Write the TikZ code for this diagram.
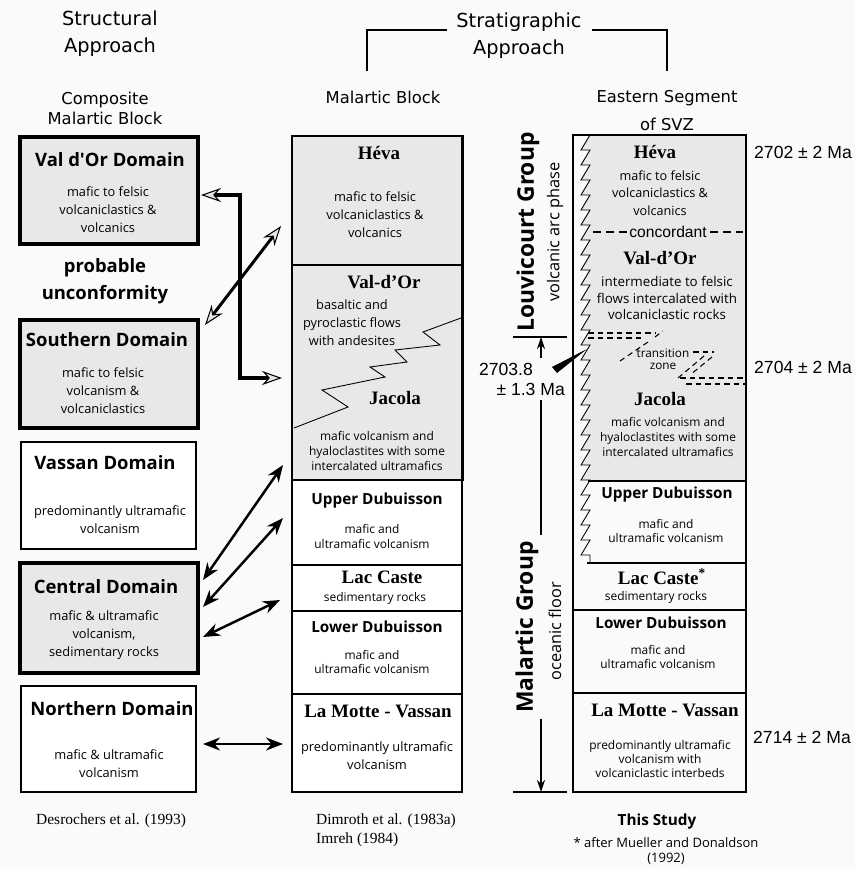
\documentclass[tikz,border=0pt]{standalone}
\usepackage{fontspec}
\setmainfont{Liberation Serif}
\newfontfamily\comicfont{Open Sans}
\newfontfamily\headfont{DejaVu Sans}
\newfontfamily\agefont{Liberation Sans}
\usetikzlibrary{arrows.meta,decorations.pathmorphing}
\definecolor{rockgray}{RGB}{232,232,232}
\definecolor{pagegray}{RGB}{250,250,250}

\begin{document}
\begin{tikzpicture}[
        x=0.2mm, y=-0.2mm,
        heading/.style={font=\headfont\fontsize{11}{15.3}\selectfont, align=center},
        subheading/.style={font=\headfont\fontsize{9.3}{11.3}\selectfont, align=center},
        domain box/.style={draw, line width=2.3pt, fill=rockgray, inner sep=0pt},
        plain box/.style={draw, line width=0.7pt, fill=white, inner sep=0pt},
        unit box/.style={draw, line width=1.7pt, fill=rockgray, inner sep=0pt},
        layer box/.style={draw, line width=0.6pt, fill=white, inner sep=0pt},
        domain name/.style={font=\comicfont\bfseries\fontsize{10.5}{15.3}\selectfont, align=center},
        dubuisson/.style={font=\comicfont\bfseries\fontsize{8.7}{10}\selectfont},
        unit name/.style={font=\bfseries\fontsize{10.8}{12}\selectfont},
        rock text/.style={font=\comicfont\fontsize{7.3}{10.2}\selectfont, align=center},
        small rock text/.style={font=\comicfont\fontsize{6.8}{8.5}\selectfont, align=center},
        age/.style={font=\agefont\fontsize{10}{12}\selectfont},
        reference/.style={font=\fontsize{8.8}{10.8}\selectfont, align=left, anchor=west},
        group name/.style={font=\comicfont\bfseries\fontsize{13}{15}\selectfont, rotate=90},
        group phase/.style={font=\comicfont\fontsize{9.3}{11}\selectfont, rotate=90},
        solid link/.style={line width=1.4pt, {Stealth[length=3.4mm,width=2.6mm]}-{Stealth[length=3.4mm,width=2.6mm]}},
        hollow link/.style={line width=#1, {Stealth[length=4mm,width=2.8mm,fill=gray!20,line width=0.6pt]}-{Stealth[length=4mm,width=2.8mm,fill=gray!20,line width=0.6pt]}},
        bracket line/.style={line width=0.9pt},
        contact/.style={line width=0.9pt, dash pattern=on 1.6mm off 1mm},
        transition/.style={line width=0.6pt, dash pattern=on 1.1mm off 0.8mm},
        saw deco/.style={decoration={saw, mirror, segment length=3mm, amplitude=1.8mm}}
    ]
    \fill[pagegray] (0,0) rectangle (855,869);
    \useasboundingbox (0,0) rectangle (855,869);

    % headings
    \node[heading] (struct) at (110,34) {Structural\\Approach};
    \node[heading] (strat) at (519,36) {Stratigraphic\\Approach};
    \node[subheading] (comp) at (105,108) {Composite\\Malartic Block};
    \node[subheading] (mblk) at (383,97) {Malartic Block};
    \node[subheading, font=\headfont\fontsize{9.3}{15.9}\selectfont] (svzh) at (667,111) {Eastern Segment\\of SVZ};
    \coordinate (brL) at (367,71);
    \coordinate (brLe) at (447,30);
    \coordinate (brR) at (667,71);
    \coordinate (brRs) at (592,30);
    \draw[bracket line] (brL) |- (brLe);
    \draw[bracket line] (brRs) -| (brR);

    % structural approach
    \node[domain box, minimum width=35.6mm, minimum height=21.4mm] (vod) at (109,190.5) {};
    \node[domain box, minimum width=35.6mm, minimum height=21.6mm] (sou) at (109,374) {};
    \node[plain box, minimum width=35mm, minimum height=21.4mm] (vas) at (108.5,495.5) {};
    \node[domain box, minimum width=35.6mm, minimum height=22mm] (cen) at (109,618) {};
    \node[plain box, minimum width=35mm, minimum height=21.2mm] (nor) at (108.5,739) {};
    \node[domain name] (vodn) at (110,160) {Val d'Or Domain};
    \node[rock text] (vodt) at (108,210) {mafic to felsic\\volcaniclastics \&\\volcanics};
    \node[domain name] (unc) at (105,281) {probable\\unconformity};
    \node[domain name] (soun) at (107,340) {Southern Domain};
    \node[rock text] (sout) at (103,391) {mafic to felsic\\volcanism \&\\volcaniclastics};
    \node[domain name] (vasn) at (105,463) {Vassan Domain};
    \node[rock text] (vast) at (110,520) {predominantly ultramafic\\volcanism};
    \node[domain name] (cenn) at (106,587) {Central Domain};
    \node[rock text] (cent) at (104,635) {mafic \& ultramafic\\volcanism,\\sedimentary rocks};
    \node[domain name] (norn) at (112,709) {Northern Domain};
    \node[rock text] (nort) at (109,764) {mafic \& ultramafic\\volcanism};
    \node[reference] (desr) at (30,821) {Desrochers et al. (1993)};

    % malartic block
    \node[layer box, minimum width=34mm, minimum height=17mm] (udu) at (377,522.5) {};
    \node[layer box, minimum width=34mm, minimum height=9.2mm] (lac) at (377,588) {};
    \node[layer box, minimum width=34mm, minimum height=16.6mm] (ldu) at (377,652.5) {};
    \node[layer box, minimum width=34mm, minimum height=19.6mm] (lmv) at (377,743) {};
    \node[unit box, minimum width=34mm, minimum height=25.8mm] (hev) at (377,200.5) {};
    \node[unit box, minimum width=34mm, minimum height=43mm] (vdj) at (377,372.5) {};
    \draw[line width=0.5pt] (461,318) -- (423,332) -- (440,345) -- (395,350) -- (407,362) -- (370,367)
        -- (385,377) -- (322,390) -- (348,407) -- (294,428);
    \node[unit name] (hevn) at (379,153) {Héva};
    \node[rock text] (hevt) at (375,215) {mafic to felsic\\volcaniclastics \&\\volcanics};
    \node[unit name] (vdon) at (384,282) {Val-d'Or};
    \node[rock text] (vdot) at (352,323) {basaltic and\\pyroclastic flows\\with andesites};
    \node[unit name] (jacn) at (395,398) {Jacola};
    \node[small rock text] (jact) at (377,451) {mafic volcanism and\\hyaloclastites with some\\intercalated ultramafics};
    \node[dubuisson] (udun) at (377,501) {Upper Dubuisson};
    \node[small rock text] (udut) at (372,536.5) {mafic and\\ultramafic volcanism};
    \node[unit name] (lacn) at (382,577) {Lac Caste};
    \node[small rock text] (lact) at (375,598) {sedimentary rocks};
    \node[dubuisson] (ldun) at (377,627) {Lower Dubuisson};
    \node[small rock text] (ldut) at (372,662) {mafic and\\ultramafic volcanism};
    \node[unit name] (lmvn) at (378,711) {La Motte - Vassan};
    \node[rock text] (lmvt) at (377,756) {predominantly ultramafic\\volcanism};
    \node[reference] (dimr) at (310,830) {Dimroth et al. (1983a)\\Imreh (1984)};

    % links between the two approaches
    \coordinate (bkA) at (201,195);
    \coordinate (bkC) at (240,378);
    \coordinate (bkB) at (282,378);
    \coordinate (dgA) at (205,325);
    \coordinate (dgB) at (281,226);
    \coordinate (jaA) at (203,580);
    \coordinate (jaB) at (283,465);
    \coordinate (udA) at (203,607);
    \coordinate (udB) at (283,518);
    \coordinate (lcA) at (203,637);
    \coordinate (lcB) at (280,600);
    \coordinate (nmA) at (203,744);
    \coordinate (nmB) at (283,744);
    \draw[hollow link=2.8pt] (bkA) -| (bkC) -- (bkB);
    \draw[hollow link=1.7pt] (dgA) -- (dgB);
    \draw[solid link] (jaA) -- (jaB);
    \draw[solid link] (udA) -- (udB);
    \draw[solid link] (lcA) -- (lcB);
    \draw[solid link] (nmA) -- (nmB);

    % eastern segment of SVZ
    \fill[rockgray] (746,135) -- (590,135) decorate[saw deco]{-- (590,481)} -- (746,481) -- cycle;
    \node[draw, line width=0.6pt, minimum width=34.6mm, minimum height=131.4mm, inner sep=0pt] (svz) at (659.5,463.5) {};
    \draw[line width=1.1pt] (573,482) |- (746,135) -- (746,481);
    \draw[line width=0.5pt] (590,135) decorate[saw deco]{-- (590,563)};
    \draw[line width=0.6pt] (588,481) -- (746,481);
    \draw[line width=0.6pt] (587,563) -- (746,563);
    \draw[line width=0.6pt] (573,610) -- (746,610);
    \draw[line width=0.6pt] (573,693) -- (746,693);
    \draw[contact] (593,232) -- (743,232);
    \node[font=\agefont\fontsize{8.9}{10}\selectfont, fill=rockgray, inner sep=1.5pt] (conc) at (668,232) {concordant};
    \draw[transition] (588,333) -- (655,333);
    \draw[transition] (588,338) -- (645,338);
    \draw[transition] (655,337) -- (663,331);
    \draw[transition] (648,342) -- (620,361);
    \draw[transition] (693,352) -- (714,352);
    \draw[transition] (704,356) -- (678,378);
    \draw[transition] (712,357) -- (690,375);
    \draw[transition] (680,378) -- (745,378);
    \draw[transition] (686,384) -- (745,384);
    \node[font=\comicfont\fontsize{6.7}{6.9}\selectfont, align=center] (trz) at (663,359) {transition\\zone};
    \node[unit name] (rhevn) at (655,152) {Héva};
    \node[rock text, font=\comicfont\fontsize{7.2}{9.9}\selectfont] (rhevt) at (660,193) {mafic to felsic\\volcaniclastics \&\\volcanics};
    \node[unit name] (rvdon) at (660,258) {Val-d'Or};
    \node[rock text, font=\comicfont\fontsize{7.6}{9.4}\selectfont] (rvdot) at (667,298) {intermediate to felsic\\flows intercalated with\\volcaniclastic rocks};
    \node[unit name] (rjacn) at (660,399) {Jacola};
    \node[small rock text] (rjact) at (668,437) {mafic volcanism and\\hyaloclastites with some\\intercalated ultramafics};
    \node[dubuisson] (rudun) at (667,495) {Upper Dubuisson};
    \node[small rock text] (rudut) at (666,531) {mafic and\\ultramafic volcanism};
    \node[unit name] (rlacn) at (662,577) {Lac Caste\textsuperscript{*}};
    \node[small rock text] (rlact) at (656,597) {sedimentary rocks};
    \node[dubuisson] (rldun) at (661,623) {Lower Dubuisson};
    \node[small rock text] (rldut) at (658,657) {mafic and\\ultramafic volcanism};
    \node[unit name] (rlmvn) at (665,710) {La Motte - Vassan};
    \node[small rock text, font=\comicfont\fontsize{6.8}{7.9}\selectfont] (rlmvt) at (660,759) {predominantly ultramafic\\volcanism with\\volcaniclastic interbeds};
    \node[dubuisson] (study) at (657,822) {This Study};
    \node[rock text, font=\comicfont\fontsize{7.4}{9}\selectfont] (after) at (666,851) {* after Mueller and Donaldson\\(1992)};

    % ages
    \node[age, anchor=west] (a2702) at (748,152) {2702 ± 2 Ma};
    \node[age, anchor=west] (a2704) at (748,367) {2704 ± 2 Ma};
    \node[age, anchor=west] (a2714) at (747,737) {2714 ± 2 Ma};
    \node[age, anchor=east] (a2703) at (539,369) {2703.8};
    \node[age, anchor=east] (a2703e) at (571,389) {± 1.3 Ma};
    \fill (587,349) -- (552,367) -- (557,373) -- cycle;

    % groups
    \node[group name] (louv) at (528,232) {Louvicourt Group};
    \node[group phase] (louvp) at (555,232) {volcanic arc phase};
    \node[group name] (mal) at (527,627) {Malartic Group};
    \node[group phase] (malp) at (555,631) {oceanic floor};
    \coordinate (tickT) at (541,337);
    \coordinate (tickB) at (541,792);
    \coordinate (ageUp) at (541,358);
    \coordinate (ageDn) at (541,400);
    \draw[line width=1pt] (513,337) -- (567,337);
    \draw[line width=1.4pt] (513,792) -- (567,792);
    \draw[line width=0.6pt, -{Stealth[length=2.4mm,width=1.6mm]}] (ageUp) -- (tickT);
    \draw[line width=0.6pt] (ageDn) -- (tickT |- mal.east);
    \draw[line width=0.6pt, -{Stealth[length=2.4mm,width=1.6mm]}] (tickT |- mal.west) -- (tickB);
\end{tikzpicture}
\end{document}
